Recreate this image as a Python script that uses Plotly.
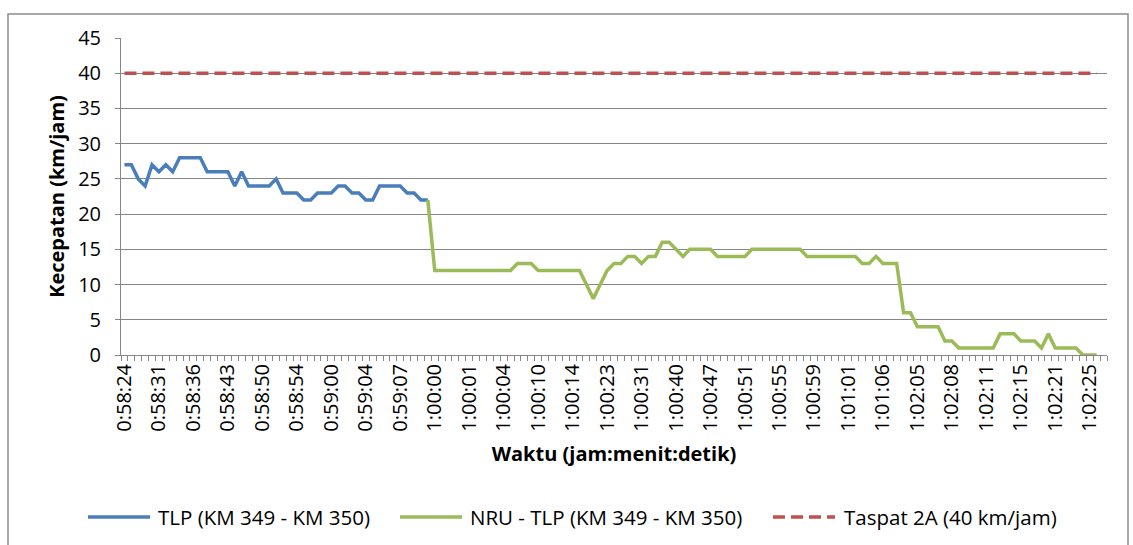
import plotly.graph_objects as go

# Category labels shown on the time axis (every 5th sample)
time_labels = [
    "0:58:24", "0:58:31", "0:58:36", "0:58:43", "0:58:50", "0:58:54",
    "0:59:00", "0:59:04", "0:59:07", "1:00:00", "1:00:01", "1:00:04",
    "1:00:10", "1:00:14", "1:00:23", "1:00:31", "1:00:40", "1:00:47",
    "1:00:51", "1:00:55", "1:00:59", "1:01:01", "1:01:06", "1:02:05",
    "1:02:08", "1:02:11", "1:02:15", "1:02:21", "1:02:25",
]
label_step = 5
n_categories = 143

# Speed (km/jam) for segment TLP, samples 0..44
tlp_speed = [
    27, 27, 25, 24, 27, 26, 27, 26, 28, 28, 28, 28, 26, 26, 26, 26,
    24, 26, 24, 24, 24, 24, 25, 23, 23, 23, 22, 22, 23, 23, 23, 24,
    24, 23, 23, 22, 22, 24, 24, 24, 24, 23, 23, 22, 22,
]

# Speed (km/jam) for segment NRU - TLP, samples 44..141
nru_start = 44
nru_tlp_speed = [
    22,
    12, 12, 12, 12, 12, 12, 12, 12, 12, 12, 12, 12,
    13, 13, 13,
    12, 12, 12, 12, 12, 12, 12,
    10, 8, 10, 12, 13, 13, 14, 14, 13, 14, 14, 16, 16, 15, 14,
    15, 15, 15, 15,
    14, 14, 14, 14, 14,
    15, 15, 15, 15, 15, 15, 15, 15,
    14, 14, 14, 14, 14, 14, 14, 14,
    13, 13, 14, 13, 13, 13,
    6, 6, 4, 4, 4, 4, 2, 2,
    1, 1, 1, 1, 1, 1,
    3, 3, 3, 2, 2, 2, 1, 3, 1, 1, 1, 1,
    0, 0, 0,
]

speed_limit = 40  # Taspat 2A
n_samples = nru_start + len(nru_tlp_speed)

series_names = ["TLP (KM 349 - KM 350)", "NRU - TLP (KM 349 - KM 350)", "Taspat 2A (40 km/jam)"]
series_colors = ["#4A7EBB", "#9BBB59", "#C0504D"]
series_dash = ["solid", "solid", "12px,6px"]

font_family = "Open Sans, Lato, sans-serif"
axis_grey = "#868686"

# Plot-area geometry (pixels) used to place the frame and the legend row
W, H = 1133, 545
PL, PR, PT, PB = 121, 26, 38, 190
plot_w = W - PL - PR
plot_h = H - PT - PB


def px(x):
    return (x - PL) / plot_w


def py(y):
    return (H - PB - y) / plot_h


fig = go.Figure()
fig.add_trace(go.Scatter(
    x=list(range(len(tlp_speed))), y=tlp_speed, mode="lines",
    name=series_names[0], line=dict(color=series_colors[0], width=3.5),
))
fig.add_trace(go.Scatter(
    x=list(range(nru_start, n_samples)), y=nru_tlp_speed, mode="lines",
    name=series_names[1], line=dict(color=series_colors[1], width=3.5),
))
fig.add_trace(go.Scatter(
    x=list(range(n_samples)), y=[speed_limit] * n_samples, mode="lines",
    name=series_names[2], line=dict(color=series_colors[2], width=3.5, dash=series_dash[2]),
))

# Legend row: long line samples followed by the series name
legend_y = py(517)
legend_items = [(88, 156), (400, 468), (773, 842)]
shapes = [dict(
    type="rect", xref="paper", yref="paper",
    x0=px(8), x1=px(1128), y0=py(560), y1=py(14),
    line=dict(color="#8C8C8C", width=1.5), layer="below",
)]
annotations = []
for (sample_x, text_x), name, color, dash in zip(legend_items, series_names, series_colors, series_dash):
    shapes.append(dict(
        type="line", xref="paper", yref="paper",
        x0=px(sample_x), x1=px(sample_x + 62), y0=legend_y, y1=legend_y,
        line=dict(color=color, width=3.5, dash=dash),
    ))
    annotations.append(dict(
        xref="paper", yref="paper", x=px(text_x), y=legend_y,
        xanchor="left", yanchor="middle", showarrow=False,
        text=name, font=dict(size=20.5, family=font_family, color="black"),
    ))

fig.update_layout(
    width=W, height=H,
    margin=dict(l=PL, r=PR, t=PT, b=PB),
    paper_bgcolor="white", plot_bgcolor="white",
    font=dict(family=font_family, size=17, color="black"),
    showlegend=False,
    shapes=shapes,
    annotations=annotations,
)

fig.update_xaxes(
    range=[-0.5, n_categories - 0.5],
    tickmode="array",
    tickvals=[i * label_step for i in range(len(time_labels))],
    ticktext=time_labels,
    tickangle=-90,
    tickfont=dict(size=20),
    ticks="",
    showgrid=False, zeroline=False,
    showline=True, linecolor=axis_grey, linewidth=1,
    minor=dict(ticks="outside", ticklen=5, tickcolor=axis_grey,
               tickmode="linear", tick0=-0.5, dtick=1, showgrid=False),
    title=dict(text="<b>Waktu (jam:menit:detik)</b>", font=dict(size=20), standoff=16),
)
fig.update_yaxes(
    range=[0, 45], dtick=5,
    ticks="outside", ticklen=5, tickcolor=axis_grey,
    ticklabelstandoff=10,
    showgrid=True, gridcolor=axis_grey, gridwidth=1,
    zeroline=False,
    showline=True, linecolor=axis_grey, linewidth=1,
    tickfont=dict(size=20),
    title=dict(text="<b>Kecepatan (km/jam)</b>", font=dict(size=20), standoff=8),
)

fig.write_html("out.html")
